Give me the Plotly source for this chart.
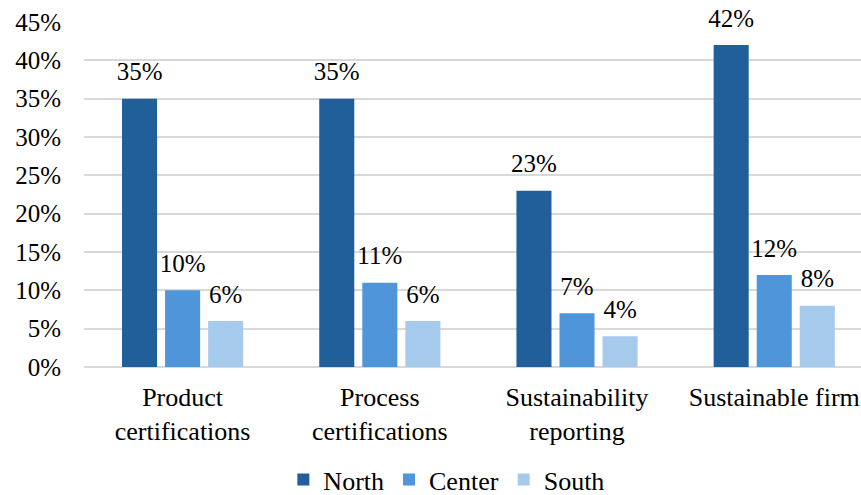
import plotly.graph_objects as go

categories = ["Product<br>certifications", "Process<br>certifications",
              "Sustainability<br>reporting", "Sustainable firm"]
north = [35, 35, 23, 42]
center = [10, 11, 7, 12]
south = [6, 6, 4, 8]
y_ticks = [0, 5, 10, 15, 20, 25, 30, 35, 40, 45]
y_tick_text = [f"{v}%" for v in y_ticks]

series = [("North", north, "#215F9A"),
          ("Center", center, "#4E95D9"),
          ("South", south, "#A6CAEC")]

FONT = "Liberation Serif"
SIZE = 25
BARGAP = 0.345

fig = go.Figure()
for name, vals, color in series:
    fig.add_trace(go.Bar(
        name=name, x=categories, y=vals,
        marker=dict(color=color, line=dict(width=0)),
        hoverinfo="x+y+name",
    ))

# value labels: invisible grouped markers so the text sits a little above each bar
for name, vals, color in series:
    fig.add_trace(go.Scatter(
        x=categories, y=vals, mode="markers+text",
        marker=dict(size=18, opacity=0, color=color),
        text=[f"{v}%" for v in vals], textposition="top center",
        textfont=dict(family=FONT, size=SIZE, color="black"),
        showlegend=False, hoverinfo="skip", cliponaxis=False,
    ))

fig.update_layout(
    width=861, height=495,
    margin=dict(l=84, r=0, t=22, b=128),
    paper_bgcolor="white", plot_bgcolor="white",
    barmode="group", bargap=BARGAP, bargroupgap=0.186,
    scattermode="group", scattergap=BARGAP,
    font=dict(family=FONT, size=SIZE, color="black"),
    showlegend=True,
    legend=dict(orientation="h", xref="container", yref="container",
                x=0.519, xanchor="center", y=0.031, yanchor="middle",
                font=dict(family=FONT, size=26), itemwidth=30,
                tracegroupgap=0),
)
fig.update_xaxes(range=[-0.5, 3.44], showline=False, ticks="",
                 tickfont=dict(family=FONT, size=26),
                 ticklabelstandoff=12)
fig.update_yaxes(range=[0, 45], tickmode="array", tickvals=y_ticks,
                 ticktext=y_tick_text,
                 showgrid=True, gridcolor="#D9D9D9", gridwidth=1.5,
                 zeroline=True, zerolinecolor="#D9D9D9", zerolinewidth=1.5,
                 tickfont=dict(family=FONT, size=SIZE),
                 ticklabelstandoff=22)

fig.write_html("out.html")
